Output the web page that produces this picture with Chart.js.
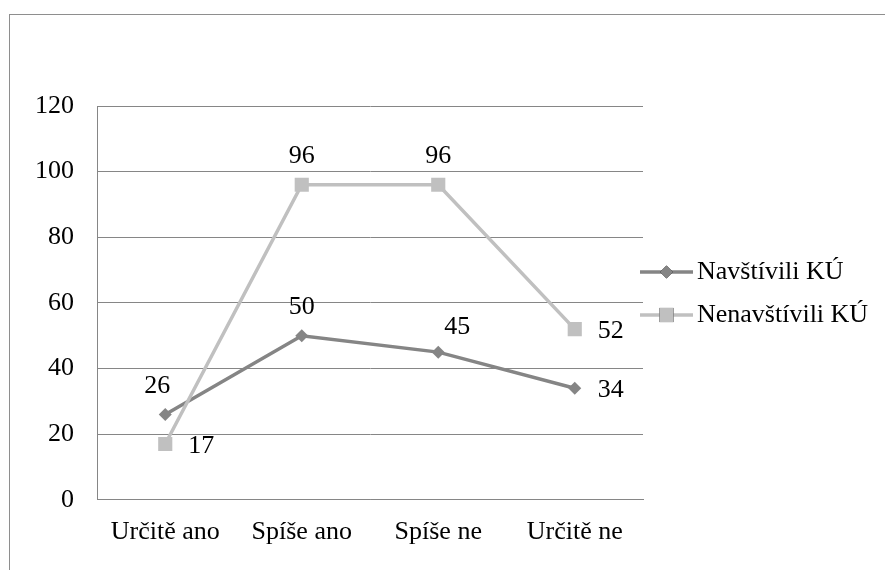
<!DOCTYPE html>
<html>
<head>
<meta charset="utf-8">
<script src="https://cdn.jsdelivr.net/npm/chart.js@4/dist/chart.umd.min.js"></script>
<style>
  html, body { margin: 0; padding: 0; background: #fff; }
  #wrap { width: 885px; height: 570px; position: relative; }
</style>
</head>
<body>
<div id="wrap"><canvas id="chart" width="885" height="570"></canvas></div>
<script>
// chart data
const categories = ['Určitě ano', 'Spíše ano', 'Spíše ne', 'Určitě ne'];
const navstivili = [26, 50, 45, 34];
const nenavstivili = [17, 96, 96, 52];
const yTicks = [0, 20, 40, 60, 80, 100, 120];

const FONT = "'Liberation Serif'";
const darkGray = '#858585';
const lightGray = '#c0c0c0';

Chart.defaults.font.family = FONT;
Chart.defaults.font.size = 26;
Chart.defaults.color = '#000';

// where each value label sits relative to its point
const labelOffsets = {
  above: [0, -29],
  aboveLeft: [-8, -28],
  aboveRight: [19, -25],
  right: [36, 2]
};
const labelPlaces = [
  ['aboveLeft', 'above', 'aboveRight', 'right'],
  ['right', 'above', 'above', 'right']
];

const framePlugin = {
  id: 'frame',
  beforeDraw(chart) {
    const ctx = chart.ctx;
    ctx.save();
    ctx.strokeStyle = '#8e8e8e';
    ctx.lineWidth = 1;
    ctx.strokeRect(9.5, 14.5, 900, 600);
    ctx.restore();
  }
};

const valueLabels = {
  id: 'valueLabels',
  afterDatasetsDraw(chart) {
    const ctx = chart.ctx;
    ctx.save();
    ctx.font = '26px ' + FONT;
    ctx.fillStyle = '#000';
    ctx.textAlign = 'center';
    ctx.textBaseline = 'middle';
    chart.data.datasets.forEach(function(ds, i) {
      const meta = chart.getDatasetMeta(i);
      meta.data.forEach(function(pt, j) {
        const off = labelOffsets[labelPlaces[i][j]];
        ctx.fillText(String(ds.data[j]), pt.x + off[0], pt.y + off[1]);
      });
    });
    ctx.restore();
  }
};

// legend drawn by hand: line sample with the marker in the middle
const sideLegend = {
  id: 'sideLegend',
  afterDraw(chart) {
    const ctx = chart.ctx;
    const x0 = chart.chartArea.right - 3;
    const rows = [272, 315];
    ctx.save();
    chart.data.datasets.forEach(function(ds, i) {
      const y = rows[i];
      ctx.strokeStyle = ds.borderColor;
      ctx.lineWidth = ds.borderWidth;
      ctx.beginPath();
      ctx.moveTo(x0, y);
      ctx.lineTo(x0 + 53, y);
      ctx.stroke();
      Chart.helpers.drawPoint(ctx, {
        pointStyle: ds.pointStyle,
        radius: ds.pointRadius,
        borderWidth: 0
      }, x0 + 26.5, y);
      ctx.fillStyle = ds.pointBackgroundColor;
      ctx.fill();
      ctx.fillStyle = '#000';
      ctx.font = '26px ' + FONT;
      ctx.textAlign = 'left';
      ctx.textBaseline = 'middle';
      ctx.fillText(ds.label, x0 + 57, y);
    });
    ctx.restore();
  }
};

new Chart(document.getElementById('chart'), {
  type: 'line',
  data: {
    labels: categories,
    datasets: [
      {
        label: 'Navštívili KÚ',
        data: navstivili,
        borderColor: darkGray,
        backgroundColor: darkGray,
        pointBackgroundColor: darkGray,
        pointBorderColor: darkGray,
        borderWidth: 3.5,
        pointStyle: 'rectRot',
        pointRadius: 6.5,
        pointBorderWidth: 0,
        tension: 0,
        order: 1
      },
      {
        label: 'Nenavštívili KÚ',
        data: nenavstivili,
        borderColor: lightGray,
        backgroundColor: lightGray,
        pointBackgroundColor: lightGray,
        pointBorderColor: lightGray,
        borderWidth: 3.5,
        pointStyle: 'rect',
        pointRadius: 10,
        pointBorderWidth: 0,
        tension: 0,
        order: 0
      }
    ]
  },
  options: {
    responsive: false,
    animation: false,
    devicePixelRatio: 1,
    layout: { padding: { top: 106, right: 242, bottom: 5, left: 0 } },
    plugins: {
      legend: { display: false },
      tooltip: { enabled: false }
    },
    scales: {
      x: {
        offset: true,
        grid: { display: false, drawTicks: false },
        border: { display: true, color: '#868686', width: 1 },
        ticks: { color: '#000', font: { family: FONT, size: 26 }, padding: 17, maxRotation: 0 }
      },
      y: {
        min: 0,
        max: 120,
        afterBuildTicks(scale) {
          scale.ticks = yTicks.map(function(v) { return { value: v }; });
        },
        afterFit(scale) { scale.width = 97; },
        grid: { color: '#868686', lineWidth: 1, drawTicks: false },
        border: { display: true, color: '#868686', width: 1 },
        ticks: { color: '#000', font: { family: FONT, size: 26 }, padding: 23 }
      }
    }
  },
  plugins: [framePlugin, valueLabels, sideLegend]
});
</script>
</body>
</html>
